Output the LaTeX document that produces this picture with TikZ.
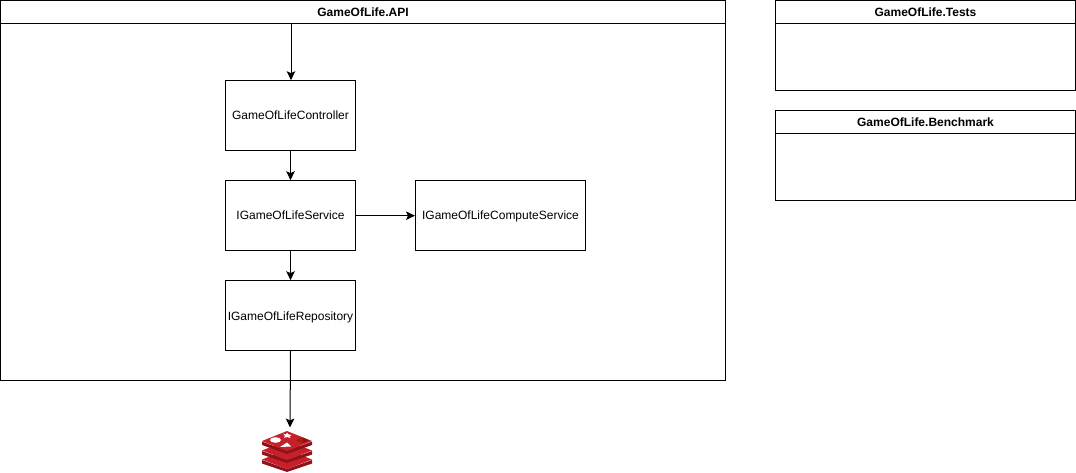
\documentclass[tikz,border=0pt]{standalone}
\usepackage{fontspec}
\setmainfont{Liberation Sans}
\usetikzlibrary{arrows.meta}
\definecolor{rdark}{HTML}{A41E11}
\definecolor{rmid}{HTML}{C6202B}
\definecolor{rshade}{HTML}{8E1218}
\tikzset{
  x=1pt,y=-1pt,
  boxn/.style={draw=black,line width=1pt,fill=white,minimum width=130pt,minimum height=70pt,inner sep=0pt,text height=8.6pt,text depth=0pt,font=\fontsize{12}{14}\selectfont,text=black},
  swim/.style={draw=black,line width=1pt,inner sep=0pt,fill=white},
  swimhead/.style={draw=black,line width=1pt,inner sep=0pt,text height=8.6pt,text depth=0pt,font=\bfseries\fontsize{12}{14}\selectfont,text=black,fill=white},
  conn/.style={draw=black,line width=1pt,-{Stealth[length=9pt,width=8.5pt,inset=2pt]}},
}
\begin{document}
\begin{tikzpicture}
\useasboundingbox (0,0) rectangle (1076,473);
% containers
\node[swim,minimum width=725pt,minimum height=380pt,anchor=north west] (api) at (0,0.2) {};
\node[swimhead,minimum width=725pt,minimum height=23pt,anchor=north west] (apih) at (0,0.2) {GameOfLife.API};
\node[swim,minimum width=300pt,minimum height=90pt,anchor=north west] (tests) at (775,0.2) {};
\node[swimhead,minimum width=300pt,minimum height=23pt,anchor=north west] (testsh) at (775,0.2) {GameOfLife.Tests};
\node[swim,minimum width=300pt,minimum height=90pt,anchor=north west] (bench) at (775,110.2) {};
\node[swimhead,minimum width=300pt,minimum height=23pt,anchor=north west] (benchh) at (775,110.2) {GameOfLife.Benchmark};
% boxes
\node[boxn,anchor=north west] (ctrl) at (225,80.2) {GameOfLifeController};
\node[boxn,anchor=north west] (svc) at (225,180.2) {IGameOfLifeService};
\node[boxn,anchor=north west,minimum width=170pt] (comp) at (415,180.2) {IGameOfLifeComputeService};
\node[boxn,anchor=north west] (repo) at (225,280.2) {IGameOfLifeRepository};
% connector ends
\coordinate (apistart) at (291,23.2);
\coordinate (ctrltop) at (291,80.2);
\coordinate (redistop) at (290,427.5);
% connectors
\draw[conn] (apistart) -- (ctrltop);
\draw[conn] (ctrl.south) -- (svc.north);
\draw[conn] (svc.east) -- (comp.west);
\draw[conn] (svc.south) -- (repo.north);
\draw[conn] (repo.south) -- (redistop);
% Redis icon: three stacked layers, bottom first
\fill[rshade] (262,460) -- (287,469) -- (312,460) -- (312,463.5) -- (287,472) -- (262,463.5) -- cycle;
\fill[rmid] (262,459.5) -- (287,449.5) -- (312,459.5) -- (287,469) -- cycle;
\fill[rshade] (262,451) -- (287,460) -- (312,451) -- (312,454.5) -- (287,463) -- (262,454.5) -- cycle;
\fill[rmid] (262,450.5) -- (287,440.5) -- (312,450.5) -- (287,460) -- cycle;
\fill[rshade] (262,441.5) -- (287,451) -- (312,441.5) -- (312,445) -- (287,454) -- (262,445) -- cycle;
\fill[rmid] (262,441) -- (287,431) -- (312,441) -- (287,451) -- cycle;
\fill[white] (275.5,440) ellipse [x radius=5.5,y radius=2.8];
\fill[rshade] (296,440.5) -- (303,437.5) -- (309,440.5) -- (303,443) -- cycle;
\fill[rdark] (296,440.5) -- (303,437.5) -- (303,443) -- cycle;
\fill[white] (280,447) -- (291,446.5) -- (287,442.5) -- cycle;
\fill[white] (283,433.5) -- (286,434.5) -- (287,432.5) -- (288.5,434.5) -- (292,435) -- (289.5,436.2) -- (290.5,438) -- (287,437) -- (284,437.8) -- (285,436) -- cycle;
\end{tikzpicture}
\end{document}
